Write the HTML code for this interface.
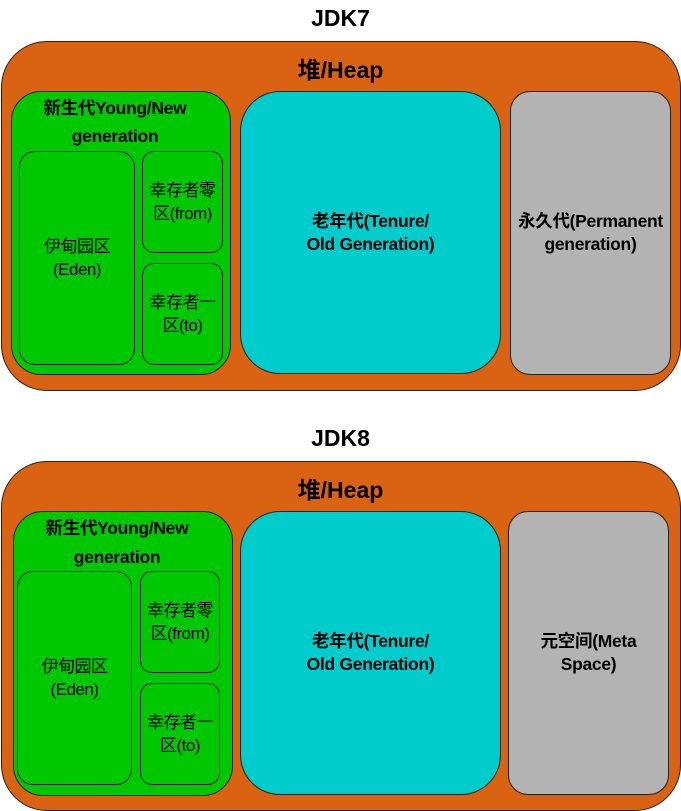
<!DOCTYPE html>
<html><head><meta charset="utf-8"><style>
body{margin:0;width:681px;height:811px;background:#fff;position:relative;overflow:hidden;font-family:"Liberation Sans","Noto Sans CJK SC",sans-serif;}
.b{position:absolute;box-sizing:border-box;border:1px solid #222;}
.t{position:absolute;text-align:center;color:#000;}
.c{display:flex;align-items:center;justify-content:center;text-align:center;line-height:23px;}
.bold{font-weight:bold;font-size:17.5px;letter-spacing:-0.3px;}
.reg{font-size:17px;letter-spacing:-0.5px;}
</style></head><body>
<div class="t" style="left:0;width:681px;top:5px;font-size:23px;font-weight:bold;">JDK7</div>
<div class="b" style="left:1px;top:41px;width:680px;height:350px;border-radius:46px;background:#d96213;"></div>
<div class="t" style="left:0;width:681px;top:51px;font-size:23px;font-weight:bold;">堆/Heap</div>
<div class="b" style="left:11px;top:91px;width:220px;height:284px;border-radius:30px;background:#00c800;"></div>
<div class="t bold" style="left:5px;width:220px;top:94px;line-height:28px;">新生代Young/New<br>generation</div>
<div class="b c reg" style="left:19px;top:151px;width:116px;height:214px;border-radius:16px;background:#00c800;">伊甸园区<br>(Eden)</div>
<div class="b c reg" style="left:142px;top:151px;width:81px;height:102px;border-radius:12px;background:#00c800;">幸存者零<br>区(from)</div>
<div class="b c reg" style="left:142px;top:263px;width:81px;height:102px;border-radius:12px;background:#00c800;">幸存者一<br>区(to)</div>
<div class="b c bold" style="left:240px;top:91px;width:261px;height:283px;border-radius:40px;background:#00cccc;">老年代(Tenure/<br>Old Generation)</div>
<div class="b c bold" style="left:510px;top:91px;width:161px;height:284px;border-radius:20px;background:#b3b3b3;">永久代(Permanent<br>generation)</div>

<div class="t" style="left:0;width:681px;top:425px;font-size:23px;font-weight:bold;">JDK8</div>
<div class="b" style="left:1px;top:461px;width:680px;height:350px;border-radius:46px;background:#d96213;"></div>
<div class="t" style="left:0;width:681px;top:471px;font-size:23px;font-weight:bold;">堆/Heap</div>
<div class="b" style="left:13px;top:511px;width:220px;height:285px;border-radius:30px;background:#00c800;"></div>
<div class="t bold" style="left:7px;width:220px;top:514px;line-height:29px;">新生代Young/New<br>generation</div>
<div class="b c reg" style="left:17px;top:571px;width:115px;height:214px;border-radius:16px;background:#00c800;">伊甸园区<br>(Eden)</div>
<div class="b c reg" style="left:140px;top:571px;width:80px;height:102px;border-radius:12px;background:#00c800;">幸存者零<br>区(from)</div>
<div class="b c reg" style="left:140px;top:683px;width:80px;height:102px;border-radius:12px;background:#00c800;">幸存者一<br>区(to)</div>
<div class="b c bold" style="left:240px;top:511px;width:261px;height:284px;border-radius:40px;background:#00cccc;">老年代(Tenure/<br>Old Generation)</div>
<div class="b c bold" style="left:508px;top:511px;width:161px;height:284px;border-radius:20px;background:#b3b3b3;">元空间(Meta<br>Space)</div>
</body></html>
